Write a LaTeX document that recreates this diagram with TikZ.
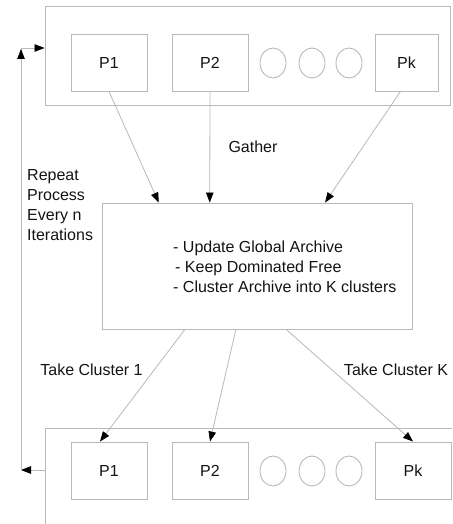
\documentclass[tikz,border=0pt]{standalone}
\usepackage{fontspec}
\setmainfont{Liberation Sans}
\usetikzlibrary{arrows.meta,calc,shapes.geometric}
\definecolor{edgegray}{RGB}{185,185,185}
\definecolor{inkgray}{RGB}{20,20,20}
\tikzset{
  x=1pt, y=-1pt,
  every node/.style={font=\fontsize{16}{20}\selectfont, text=inkgray},
  frame/.style={draw=edgegray, line width=0.9pt},
  procbox/.style={frame, minimum width=76pt, minimum height=57pt, inner sep=0pt},
  dot/.style={frame, ellipse, minimum width=26pt, minimum height=30pt, inner sep=0pt},
  conn/.style={draw=edgegray, line width=0.8pt, -{Triangle[length=10pt,width=7.5pt,color=black]}},
  plain/.style={draw=edgegray, line width=0.8pt},
  label/.style={inner sep=0pt, align=left}
}
\begin{document}
\begin{tikzpicture}
\useasboundingbox (0,0) rectangle (452,524);
\clip (0,0) rectangle (452,524);
\fill[white] (0,0) rectangle (452,524);

% upper group of processors
\node[frame, minimum width=405pt, minimum height=99pt, inner sep=0pt] (topgrp) at (247.5,55.5) {};
\node[procbox] (P1t) at (109,62.5) {P1};
\node[procbox] (P2t) at (210,62.5) {P2};
\node[dot] (c1t) at (273,63) {};
\node[dot] (c2t) at (312,63) {};
\node[dot] (c3t) at (349,63) {};
\node[procbox, minimum width=63pt] (Pkt) at (406.5,62.5) {Pk};

% central archive step
\node[frame, minimum width=310pt, minimum height=126pt, inner sep=0pt] (mid) at (257,266) {};
\node[label, anchor=west] (t1) at (173,248) {- Update Global Archive};
\node[label, anchor=west] (t2) at (175,268) {- Keep Dominated Free};
\node[label, anchor=west] (t3) at (173,287) {- Cluster Archive into K clusters};

% lower group of processors (runs past the page edge)
\draw[frame] (470,428) -- (45,428) -- (45,540);
\node[procbox] (P1b) at (109,470.5) {P1};
\node[procbox] (P2b) at (210,470.5) {P2};
\node[dot] (c1b) at (273,471) {};
\node[dot] (c2b) at (312,471) {};
\node[dot] (c3b) at (349,471) {};
\node[procbox] (Pkb) at (413,470.5) {Pk};

% gather arrows
\draw[conn] (P1t.south) -- ($(mid.north west)!0.184!(mid.north east)$);
\draw[conn] (P2t.south) -- ($(mid.north west)!0.348!(mid.north east)$);
\draw[conn] ($(Pkt.south)+(-6,0)$) -- ($(mid.north west)!0.719!(mid.north east)$);

% distribute arrows
\draw[conn] ($(mid.south west)!0.268!(mid.south east)$) -- ($(P1b.north)+(-9,0)$);
\draw[conn] ($(mid.south west)!0.432!(mid.south east)$) -- (P2b.north);
\draw[conn] ($(mid.south west)!0.594!(mid.south east)$) -- (Pkb.north);

% feedback loop
\coordinate (lowL) at (21,470);
\coordinate (upL) at (21,48);
\draw[conn] (45,470) -- (lowL);
\draw[plain] (lowL) -- (upL);
\draw[conn] ($(upL)+(0,30)$) -- ($(upL)+(0,1)$);
\draw[conn] (upL) -- (topgrp.west |- upL);

% labels
\node[label] (gather) at (253,147) {Gather};
\node[label, anchor=north west] (repeat) at (27,169) {Repeat\\Process\\Every n\\Iterations};
\node[label] (take1) at (91.5,370) {Take Cluster 1};
\node[label] (takek) at (396,370) {Take Cluster K};
\end{tikzpicture}
\end{document}
